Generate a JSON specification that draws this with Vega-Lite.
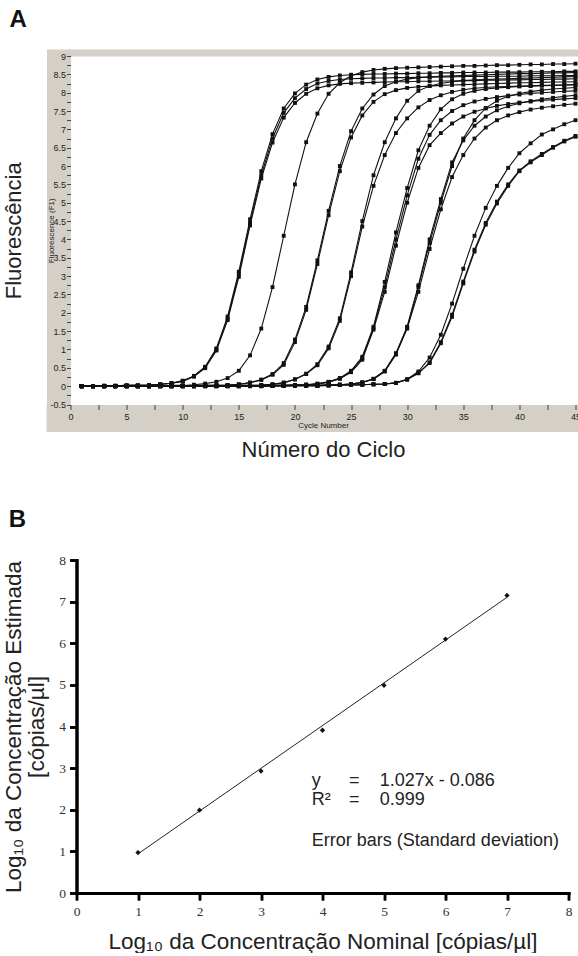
{
  "$schema": "https://vega.github.io/schema/vega-lite/v6.json",
  "background": "white",
  "padding": {"left": 2.5, "top": 8, "right": 0, "bottom": 0},
  "spacing": 47,
  "config": {"view": {"stroke": null}, "font": "Liberation Sans", "axis": {"grid": false}},
  "vconcat": [
    {
      "width": 505,
      "height": 348.5,
      "title": {"text": "A", "anchor": "start", "frame": "bounds", "fontSize": 24, "fontWeight": "bold", "font": "Liberation Sans", "color": "#111", "offset": 20, "dx": 7},
      "data": {"values": [
        {"cyc":1,"g1a":0,"g1b":0,"g1c":0,"g2a":0,"g3a":0,"g3b":0,"g4a":0,"g4b":0,"g5a":0,"g5b":0,"g5c":0,"g6a":0,"g6b":0,"g6c":0,"g7a":0,"g7b":0,"g7c":0},
        {"cyc":2,"g1a":0,"g1b":0,"g1c":0,"g2a":0,"g3a":0,"g3b":0,"g4a":0,"g4b":0,"g5a":0,"g5b":0,"g5c":0,"g6a":0,"g6b":0,"g6c":0,"g7a":0,"g7b":0,"g7c":0},
        {"cyc":3,"g1a":0.01,"g1b":0.01,"g1c":0.01,"g2a":0,"g3a":0,"g3b":0,"g4a":0,"g4b":0,"g5a":0,"g5b":0,"g5c":0,"g6a":0,"g6b":0,"g6c":0,"g7a":0,"g7b":0,"g7c":0},
        {"cyc":4,"g1a":0.01,"g1b":0.01,"g1c":0.01,"g2a":0,"g3a":0,"g3b":0,"g4a":0,"g4b":0,"g5a":0,"g5b":0,"g5c":0,"g6a":0,"g6b":0,"g6c":0,"g7a":0,"g7b":0,"g7c":0},
        {"cyc":5,"g1a":0.02,"g1b":0.02,"g1c":0.02,"g2a":0.01,"g3a":0,"g3b":0,"g4a":0,"g4b":0,"g5a":0,"g5b":0,"g5c":0,"g6a":0,"g6b":0,"g6c":0,"g7a":0,"g7b":0,"g7c":0},
        {"cyc":6,"g1a":0.02,"g1b":0.02,"g1c":0.02,"g2a":0.01,"g3a":0,"g3b":0,"g4a":0,"g4b":0,"g5a":0,"g5b":0,"g5c":0,"g6a":0,"g6b":0,"g6c":0,"g7a":0,"g7b":0,"g7c":0},
        {"cyc":7,"g1a":0.03,"g1b":0.03,"g1c":0.03,"g2a":0.01,"g3a":0,"g3b":0,"g4a":0,"g4b":0,"g5a":0,"g5b":0,"g5c":0,"g6a":0,"g6b":0,"g6c":0,"g7a":0,"g7b":0,"g7c":0},
        {"cyc":8,"g1a":0.05,"g1b":0.05,"g1c":0.05,"g2a":0.01,"g3a":0.01,"g3b":0.01,"g4a":0,"g4b":0,"g5a":0,"g5b":0,"g5c":0,"g6a":0,"g6b":0,"g6c":0,"g7a":0,"g7b":0,"g7c":0},
        {"cyc":9,"g1a":0.08,"g1b":0.08,"g1c":0.08,"g2a":0.02,"g3a":0.01,"g3b":0.01,"g4a":0,"g4b":0,"g5a":0,"g5b":0,"g5c":0,"g6a":0,"g6b":0,"g6c":0,"g7a":0,"g7b":0,"g7c":0},
        {"cyc":10,"g1a":0.14,"g1b":0.13,"g1c":0.15,"g2a":0.02,"g3a":0.01,"g3b":0.01,"g4a":0.01,"g4b":0.01,"g5a":0,"g5b":0,"g5c":0,"g6a":0,"g6b":0,"g6c":0,"g7a":0,"g7b":0,"g7c":0},
        {"cyc":11,"g1a":0.27,"g1b":0.26,"g1c":0.28,"g2a":0.04,"g3a":0.01,"g3b":0.01,"g4a":0.01,"g4b":0.01,"g5a":0,"g5b":0,"g5c":0,"g6a":0,"g6b":0,"g6c":0,"g7a":0,"g7b":0,"g7c":0},
        {"cyc":12,"g1a":0.51,"g1b":0.49,"g1c":0.53,"g2a":0.07,"g3a":0.02,"g3b":0.02,"g4a":0.01,"g4b":0.01,"g5a":0.01,"g5b":0.01,"g5c":0.01,"g6a":0,"g6b":0,"g6c":0,"g7a":0,"g7b":0,"g7c":0},
        {"cyc":13,"g1a":1.0,"g1b":0.97,"g1c":1.03,"g2a":0.12,"g3a":0.02,"g3b":0.02,"g4a":0.01,"g4b":0.01,"g5a":0.01,"g5b":0.01,"g5c":0.01,"g6a":0,"g6b":0,"g6c":0,"g7a":0,"g7b":0,"g7c":0},
        {"cyc":14,"g1a":1.84,"g1b":1.8,"g1c":1.9,"g2a":0.22,"g3a":0.03,"g3b":0.03,"g4a":0.01,"g4b":0.01,"g5a":0.01,"g5b":0.01,"g5c":0.01,"g6a":0,"g6b":0,"g6c":0,"g7a":0,"g7b":0,"g7c":0},
        {"cyc":15,"g1a":3.05,"g1b":2.98,"g1c":3.12,"g2a":0.42,"g3a":0.05,"g3b":0.05,"g4a":0.02,"g4b":0.02,"g5a":0.01,"g5b":0.01,"g5c":0.01,"g6a":0,"g6b":0,"g6c":0,"g7a":0,"g7b":0,"g7c":0},
        {"cyc":16,"g1a":4.45,"g1b":4.38,"g1c":4.55,"g2a":0.84,"g3a":0.1,"g3b":0.09,"g4a":0.02,"g4b":0.02,"g5a":0.01,"g5b":0.01,"g5c":0.01,"g6a":0.01,"g6b":0.01,"g6c":0.01,"g7a":0,"g7b":0,"g7c":0},
        {"cyc":17,"g1a":5.75,"g1b":5.66,"g1c":5.86,"g2a":1.57,"g3a":0.18,"g3b":0.17,"g4a":0.03,"g4b":0.03,"g5a":0.01,"g5b":0.01,"g5c":0.01,"g6a":0.01,"g6b":0.01,"g6c":0.01,"g7a":0,"g7b":0,"g7c":0},
        {"cyc":18,"g1a":6.75,"g1b":6.64,"g1c":6.87,"g2a":2.7,"g3a":0.33,"g3b":0.31,"g4a":0.05,"g4b":0.05,"g5a":0.02,"g5b":0.02,"g5c":0.02,"g6a":0.01,"g6b":0.01,"g6c":0.01,"g7a":0.01,"g7b":0.01,"g7c":0.01},
        {"cyc":19,"g1a":7.45,"g1b":7.32,"g1c":7.57,"g2a":4.1,"g3a":0.63,"g3b":0.58,"g4a":0.1,"g4b":0.09,"g5a":0.02,"g5b":0.02,"g5c":0.02,"g6a":0.01,"g6b":0.01,"g6c":0.01,"g7a":0.01,"g7b":0.01,"g7c":0.01},
        {"cyc":20,"g1a":7.85,"g1b":7.72,"g1c":7.98,"g2a":5.5,"g3a":1.27,"g3b":1.2,"g4a":0.19,"g4b":0.18,"g5a":0.03,"g5b":0.03,"g5c":0.03,"g6a":0.02,"g6b":0.02,"g6c":0.02,"g7a":0.01,"g7b":0.01,"g7c":0.01},
        {"cyc":21,"g1a":8.1,"g1b":7.97,"g1c":8.22,"g2a":6.65,"g3a":2.16,"g3b":2.08,"g4a":0.34,"g4b":0.33,"g5a":0.04,"g5b":0.04,"g5c":0.04,"g6a":0.02,"g6b":0.02,"g6c":0.02,"g7a":0.01,"g7b":0.01,"g7c":0.01},
        {"cyc":22,"g1a":8.25,"g1b":8.12,"g1c":8.36,"g2a":7.43,"g3a":3.43,"g3b":3.33,"g4a":0.6,"g4b":0.57,"g5a":0.07,"g5b":0.06,"g5c":0.06,"g6a":0.02,"g6b":0.02,"g6c":0.02,"g7a":0.01,"g7b":0.01,"g7c":0.01},
        {"cyc":23,"g1a":8.32,"g1b":8.2,"g1c":8.43,"g2a":7.97,"g3a":4.78,"g3b":4.66,"g4a":1.08,"g4b":1.03,"g5a":0.12,"g5b":0.11,"g5c":0.11,"g6a":0.03,"g6b":0.03,"g6c":0.03,"g7a":0.02,"g7b":0.02,"g7c":0.02},
        {"cyc":24,"g1a":8.36,"g1b":8.24,"g1c":8.47,"g2a":8.27,"g3a":6.0,"g3b":5.86,"g4a":1.85,"g4b":1.78,"g5a":0.22,"g5b":0.2,"g5c":0.21,"g6a":0.04,"g6b":0.04,"g6c":0.04,"g7a":0.03,"g7b":0.03,"g7c":0.03},
        {"cyc":25,"g1a":8.38,"g1b":8.26,"g1c":8.49,"g2a":8.46,"g3a":6.95,"g3b":6.78,"g4a":3.1,"g4b":3.0,"g5a":0.42,"g5b":0.38,"g5c":0.4,"g6a":0.06,"g6b":0.06,"g6c":0.06,"g7a":0.04,"g7b":0.03,"g7c":0.03},
        {"cyc":26,"g1a":8.39,"g1b":8.27,"g1c":8.5,"g2a":8.56,"g3a":7.57,"g3b":7.38,"g4a":4.5,"g4b":4.35,"g5a":0.8,"g5b":0.72,"g5c":0.76,"g6a":0.1,"g6b":0.1,"g6c":0.1,"g7a":0.04,"g7b":0.04,"g7c":0.04},
        {"cyc":27,"g1a":8.4,"g1b":8.28,"g1c":8.51,"g2a":8.62,"g3a":7.95,"g3b":7.75,"g4a":5.75,"g4b":5.46,"g5a":1.62,"g5b":1.54,"g5c":1.58,"g6a":0.19,"g6b":0.2,"g6c":0.2,"g7a":0.05,"g7b":0.05,"g7c":0.05},
        {"cyc":28,"g1a":8.4,"g1b":8.29,"g1c":8.51,"g2a":8.65,"g3a":8.18,"g3b":7.96,"g4a":6.65,"g4b":6.3,"g5a":2.84,"g5b":2.57,"g5c":2.7,"g6a":0.4,"g6b":0.42,"g6c":0.41,"g7a":0.06,"g7b":0.06,"g7c":0.06},
        {"cyc":29,"g1a":8.41,"g1b":8.3,"g1c":8.52,"g2a":8.67,"g3a":8.3,"g3b":8.07,"g4a":7.3,"g4b":6.9,"g5a":4.19,"g5b":3.83,"g5c":4.0,"g6a":0.86,"g6b":0.9,"g6c":0.88,"g7a":0.09,"g7b":0.09,"g7c":0.09},
        {"cyc":30,"g1a":8.41,"g1b":8.3,"g1c":8.52,"g2a":8.68,"g3a":8.37,"g3b":8.13,"g4a":7.78,"g4b":7.3,"g5a":5.4,"g5b":5.0,"g5c":5.2,"g6a":1.57,"g6b":1.62,"g6c":1.6,"g7a":0.19,"g7b":0.18,"g7c":0.18},
        {"cyc":31,"g1a":8.42,"g1b":8.31,"g1c":8.53,"g2a":8.69,"g3a":8.41,"g3b":8.16,"g4a":8.05,"g4b":7.6,"g5a":6.43,"g5b":5.95,"g5c":6.2,"g6a":2.57,"g6b":2.75,"g6c":2.7,"g7a":0.4,"g7b":0.36,"g7c":0.35},
        {"cyc":32,"g1a":8.42,"g1b":8.31,"g1c":8.53,"g2a":8.7,"g3a":8.43,"g3b":8.18,"g4a":8.18,"g4b":7.8,"g5a":7.1,"g5b":6.57,"g5c":6.85,"g6a":3.74,"g6b":4.0,"g6c":3.9,"g7a":0.78,"g7b":0.63,"g7c":0.65},
        {"cyc":33,"g1a":8.43,"g1b":8.32,"g1c":8.54,"g2a":8.71,"g3a":8.45,"g3b":8.2,"g4a":8.25,"g4b":7.93,"g5a":7.55,"g5b":6.9,"g5c":7.25,"g6a":4.82,"g6b":5.1,"g6c":5.0,"g7a":1.4,"g7b":1.17,"g7c":1.2},
        {"cyc":34,"g1a":8.43,"g1b":8.32,"g1c":8.54,"g2a":8.72,"g3a":8.46,"g3b":8.21,"g4a":8.3,"g4b":8.02,"g5a":7.82,"g5b":7.16,"g5c":7.5,"g6a":5.7,"g6b":6.1,"g6c":6.0,"g7a":2.25,"g7b":1.89,"g7c":1.95},
        {"cyc":35,"g1a":8.44,"g1b":8.33,"g1c":8.55,"g2a":8.73,"g3a":8.47,"g3b":8.22,"g4a":8.33,"g4b":8.08,"g5a":7.97,"g5b":7.35,"g5c":7.66,"g6a":6.3,"g6b":6.7,"g6c":6.75,"g7a":3.2,"g7b":2.8,"g7c":2.85},
        {"cyc":36,"g1a":8.44,"g1b":8.33,"g1c":8.55,"g2a":8.73,"g3a":8.48,"g3b":8.23,"g4a":8.35,"g4b":8.12,"g5a":8.05,"g5b":7.48,"g5c":7.76,"g6a":6.75,"g6b":7.1,"g6c":7.25,"g7a":4.1,"g7b":3.67,"g7c":3.72},
        {"cyc":37,"g1a":8.44,"g1b":8.34,"g1c":8.55,"g2a":8.74,"g3a":8.49,"g3b":8.24,"g4a":8.36,"g4b":8.14,"g5a":8.1,"g5b":7.57,"g5c":7.83,"g6a":7.05,"g6b":7.35,"g6c":7.58,"g7a":4.86,"g7b":4.4,"g7c":4.45},
        {"cyc":38,"g1a":8.45,"g1b":8.34,"g1c":8.56,"g2a":8.75,"g3a":8.5,"g3b":8.25,"g4a":8.37,"g4b":8.16,"g5a":8.13,"g5b":7.64,"g5c":7.88,"g6a":7.25,"g6b":7.52,"g6c":7.78,"g7a":5.46,"g7b":4.98,"g7c":5.03},
        {"cyc":39,"g1a":8.45,"g1b":8.35,"g1c":8.56,"g2a":8.75,"g3a":8.51,"g3b":8.26,"g4a":8.38,"g4b":8.17,"g5a":8.15,"g5b":7.69,"g5c":7.92,"g6a":7.38,"g6b":7.63,"g6c":7.9,"g7a":5.95,"g7b":5.46,"g7c":5.5},
        {"cyc":40,"g1a":8.45,"g1b":8.35,"g1c":8.56,"g2a":8.76,"g3a":8.52,"g3b":8.27,"g4a":8.39,"g4b":8.18,"g5a":8.17,"g5b":7.73,"g5c":7.95,"g6a":7.47,"g6b":7.71,"g6c":7.98,"g7a":6.35,"g7b":5.86,"g7c":5.88},
        {"cyc":41,"g1a":8.46,"g1b":8.36,"g1c":8.57,"g2a":8.77,"g3a":8.52,"g3b":8.27,"g4a":8.4,"g4b":8.19,"g5a":8.18,"g5b":7.76,"g5c":7.98,"g6a":7.54,"g6b":7.77,"g6c":8.03,"g7a":6.62,"g7b":6.1,"g7c":6.13},
        {"cyc":42,"g1a":8.46,"g1b":8.36,"g1c":8.57,"g2a":8.77,"g3a":8.53,"g3b":8.28,"g4a":8.41,"g4b":8.2,"g5a":8.19,"g5b":7.79,"g5c":8.0,"g6a":7.59,"g6b":7.82,"g6c":8.07,"g7a":6.86,"g7b":6.3,"g7c":6.33},
        {"cyc":43,"g1a":8.46,"g1b":8.37,"g1c":8.57,"g2a":8.78,"g3a":8.54,"g3b":8.29,"g4a":8.42,"g4b":8.2,"g5a":8.2,"g5b":7.81,"g5c":8.02,"g6a":7.63,"g6b":7.86,"g6c":8.1,"g7a":7.0,"g7b":6.5,"g7c":6.52},
        {"cyc":44,"g1a":8.47,"g1b":8.37,"g1c":8.58,"g2a":8.78,"g3a":8.54,"g3b":8.29,"g4a":8.43,"g4b":8.21,"g5a":8.21,"g5b":7.83,"g5c":8.04,"g6a":7.67,"g6b":7.9,"g6c":8.12,"g7a":7.14,"g7b":6.67,"g7c":6.69},
        {"cyc":45,"g1a":8.47,"g1b":8.38,"g1c":8.58,"g2a":8.79,"g3a":8.55,"g3b":8.3,"g4a":8.44,"g4b":8.22,"g5a":8.22,"g5b":7.85,"g5c":8.05,"g6a":7.7,"g6b":7.93,"g6c":8.14,"g7a":7.25,"g7b":6.8,"g7c":6.82}
      ]},
      "transform": [{"fold": ["g1a","g1b","g1c","g2a","g3a","g3b","g4a","g4b","g5a","g5b","g5c","g6a","g6b","g6c","g7a","g7b","g7c"], "as": ["series", "f"]}],
      "resolve": {"axis": {"x": "independent", "y": "independent"}},
      "layer": [
        {
          "mark": {"type": "line", "color": "#111", "strokeWidth": 1.1},
          "encoding": {
            "x": {"field": "cyc", "type": "quantitative", "scale": {"domain": [0, 45], "nice": false, "zero": false},
              "axis": {"orient": "bottom", "title": "Cycle Number", "values": [0,2.5,5,7.5,10,12.5,15,17.5,20,22.5,25,27.5,30,32.5,35,37.5,40,42.5,45],
                "labelExpr": "datum.value % 5 === 0 ? '' + datum.value : ''", "domain": false, "tickColor": "#444", "tickSize": 5,
                "labelFont": "Liberation Sans", "labelFontSize": 9, "labelColor": "#222", "labelPadding": 3, "labelFlush": false, "labelOverlap": false,
                "titleFont": "Liberation Sans", "titleFontSize": 8, "titleFontWeight": "normal", "titleColor": "#222", "titlePadding": 0, "zindex": 1}},
            "y": {"field": "f", "type": "quantitative", "scale": {"domain": [-0.5, 9], "nice": false, "zero": false},
              "axis": {"orient": "left", "title": "Fluorescence (F1)", "values": [-0.5,-0.25,0,0.25,0.5,0.75,1,1.25,1.5,1.75,2,2.25,2.5,2.75,3,3.25,3.5,3.75,4,4.25,4.5,4.75,5,5.25,5.5,5.75,6,6.25,6.5,6.75,7,7.25,7.5,7.75,8,8.25,8.5,8.75,9],
                "labelExpr": "datum.value % 0.5 === 0 ? '' + datum.value : ''", "domain": false, "tickColor": "#444", "tickSize": 4,
                "labelFont": "Liberation Sans", "labelFontSize": 9, "labelColor": "#222", "labelPadding": 1, "labelFlush": false, "labelOverlap": false,
                "titleFont": "Liberation Sans", "titleFontSize": 8, "titleFontWeight": "normal", "titleColor": "#222", "titlePadding": 1,
                "minExtent": 14, "maxExtent": 14, "zindex": 1}},
            "detail": {"field": "series"}
          }
        },
        {
          "mark": {"type": "point", "shape": "square", "filled": true, "size": 15, "color": "#111", "opacity": 1},
          "encoding": {
            "x": {"field": "cyc", "type": "quantitative",
              "axis": {"orient": "bottom", "title": "Número do Ciclo", "labels": false, "ticks": false, "domain": false, "minExtent": 0, "maxExtent": 0,
                "titlePadding": 35, "titleFont": "Liberation Sans", "titleFontSize": 22, "titleFontWeight": "normal", "titleColor": "#222", "zindex": 0}},
            "y": {"field": "f", "type": "quantitative",
              "axis": {"orient": "left", "title": "Fluorescência", "labels": false, "ticks": false, "domain": false, "minExtent": 0, "maxExtent": 0,
                "titlePadding": 45, "titleFont": "Liberation Sans", "titleFontSize": 22, "titleFontWeight": "normal", "titleColor": "#222", "zindex": 0}}
          }
        },
        {
          "mark": {"type": "point", "opacity": 0},
          "encoding": {
            "x": {"field": "cyc", "type": "quantitative",
              "axis": {"orient": "bottom", "title": null, "labels": false, "ticks": false, "domain": true, "domainColor": "#d4d0c8", "domainWidth": 27, "domainCap": "square", "offset": 13.5, "position": -11, "zindex": 0}},
            "y": {"field": "f", "type": "quantitative",
              "axis": {"orient": "left", "title": null, "labels": false, "ticks": false, "domain": true, "domainColor": "#d4d0c8", "domainWidth": 24, "domainCap": "square", "offset": 12, "position": 5, "zindex": 0}}
          }
        },
        {
          "mark": {"type": "point", "opacity": 0},
          "encoding": {
            "x": {"field": "cyc", "type": "quantitative",
              "axis": {"orient": "top", "title": null, "labels": false, "ticks": false, "domain": true, "domainColor": "#d4d0c8", "domainWidth": 7, "domainCap": "square", "offset": 3.5, "zindex": 0}},
            "y": {"field": "f", "type": "quantitative", "axis": null}
          }
        }
      ]
    },
    {
      "width": 498,
      "height": 333,
      "title": {"text": "B", "anchor": "start", "frame": "bounds", "fontSize": 24, "fontWeight": "bold", "font": "Liberation Sans", "color": "#111", "offset": 21, "dx": 6},
      "resolve": {"axis": {"x": "independent", "y": "independent"}},
      "layer": [
        {
          "data": {"values": [{"x": 1, "y": 0.941}, {"x": 7, "y": 7.103}]},
          "mark": {"type": "line", "color": "#222", "strokeWidth": 1},
          "encoding": {
            "x": {"field": "x", "type": "quantitative", "scale": {"domain": [0, 8], "range": [6, 498], "nice": false, "zero": false},
              "axis": {"orient": "bottom", "title": "Log₁₀ da Concentração Nominal [cópias/µl]", "values": [0,1,2,3,4,5,6,7,8], "labelExpr": "'' + datum.value", "domain": true, "domainColor": "#000", "domainWidth": 3, "domainCap": "square",
                "ticks": true, "tickColor": "#000", "tickWidth": 2.5, "tickSize": 7, "labels": true, "labelFont": "Liberation Serif", "labelFontSize": 13.5, "labelColor": "#333", "labelPadding": 4, "labelFlush": false,
                "titleFont": "Liberation Sans", "titleFontSize": 22.5, "titleFontWeight": "normal", "titleColor": "#222", "titlePadding": 13, "zindex": 1}},
            "y": {"field": "y", "type": "quantitative", "scale": {"domain": [0, 8], "nice": false, "zero": false},
              "axis": {"orient": "left", "offset": -6, "title": ["Log₁₀ da Concentração Estimada", "[cópias/µl]"], "values": [0,1,2,3,4,5,6,7,8], "labelExpr": "'' + datum.value", "domain": true, "domainColor": "#000", "domainWidth": 3, "domainCap": "square",
                "ticks": true, "tickColor": "#000", "tickWidth": 2.5, "tickSize": 7, "labels": true, "labelFont": "Liberation Serif", "labelFontSize": 13.5, "labelColor": "#333", "labelPadding": 4, "labelFlush": false,
                "titleFont": "Liberation Sans", "titleFontSize": 22.5, "titleFontWeight": "normal", "titleColor": "#222", "titlePadding": 10, "titleLineHeight": 23, "zindex": 1}}
          }
        },
        {
          "data": {"values": [
            {"x": 1, "y": 0.97}, {"x": 2, "y": 1.99}, {"x": 3, "y": 2.93}, {"x": 4, "y": 3.91},
            {"x": 5, "y": 4.99}, {"x": 6, "y": 6.1}, {"x": 7, "y": 7.15}
          ]},
          "mark": {"type": "point", "shape": "diamond", "filled": true, "size": 28, "color": "#111", "opacity": 1},
          "encoding": {
            "x": {"field": "x", "type": "quantitative", "axis": null},
            "y": {"field": "y", "type": "quantitative", "axis": null}
          }
        },
        {
          "data": {"values": [
            {"x": 1, "y": 0.97}, {"x": 2, "y": 1.99}, {"x": 3, "y": 2.93}, {"x": 4, "y": 3.91},
            {"x": 5, "y": 4.99}, {"x": 6, "y": 6.1}, {"x": 7, "y": 7.15}
          ]},
          "mark": {"type": "point", "opacity": 0},
          "encoding": {
            "x": {"field": "x", "type": "quantitative",
              "axis": {"orient": "bottom", "title": null, "labels": false, "values": [0,1,2,3,4,5,6,7,8], "domain": true, "domainColor": "#000", "domainWidth": 3, "domainCap": "square",
                "ticks": true, "tickColor": "#000", "tickWidth": 2.5, "tickSize": 7, "zindex": 2}},
            "y": {"field": "y", "type": "quantitative",
              "axis": {"orient": "left", "offset": -6, "title": null, "labels": false, "values": [0,1,2,3,4,5,6,7,8], "domain": true, "domainColor": "#000", "domainWidth": 3, "domainCap": "square",
                "ticks": true, "tickColor": "#000", "tickWidth": 2.5, "tickSize": 7, "zindex": 2}}
          }
        },
        {
          "data": {"values": [{}]},
          "mark": {"type": "text", "text": ["y", "R²"], "lineHeight": 19, "align": "left", "baseline": "alphabetic", "fontSize": 18, "font": "Liberation Sans", "color": "#222"},
          "encoding": {"x": {"datum": 3.826, "type": "quantitative", "axis": null}, "y": {"datum": 2.568, "type": "quantitative", "axis": null}}
        },
        {
          "data": {"values": [{}]},
          "mark": {"type": "text", "text": ["=", "="], "lineHeight": 19, "align": "left", "baseline": "alphabetic", "fontSize": 18, "font": "Liberation Sans", "color": "#222"},
          "encoding": {"x": {"datum": 4.43, "type": "quantitative", "axis": null}, "y": {"datum": 2.568, "type": "quantitative", "axis": null}}
        },
        {
          "data": {"values": [{}]},
          "mark": {"type": "text", "text": ["1.027x - 0.086", "0.999"], "lineHeight": 19, "align": "left", "baseline": "alphabetic", "fontSize": 18, "font": "Liberation Sans", "color": "#222"},
          "encoding": {"x": {"datum": 4.93, "type": "quantitative", "axis": null}, "y": {"datum": 2.568, "type": "quantitative", "axis": null}}
        },
        {
          "data": {"values": [{}]},
          "mark": {"type": "text", "text": "Error bars (Standard deviation)", "align": "left", "baseline": "alphabetic", "fontSize": 18, "font": "Liberation Sans", "color": "#222"},
          "encoding": {"x": {"datum": 3.826, "type": "quantitative", "axis": null}, "y": {"datum": 1.128, "type": "quantitative", "axis": null}}
        }
      ]
    }
  ]
}
